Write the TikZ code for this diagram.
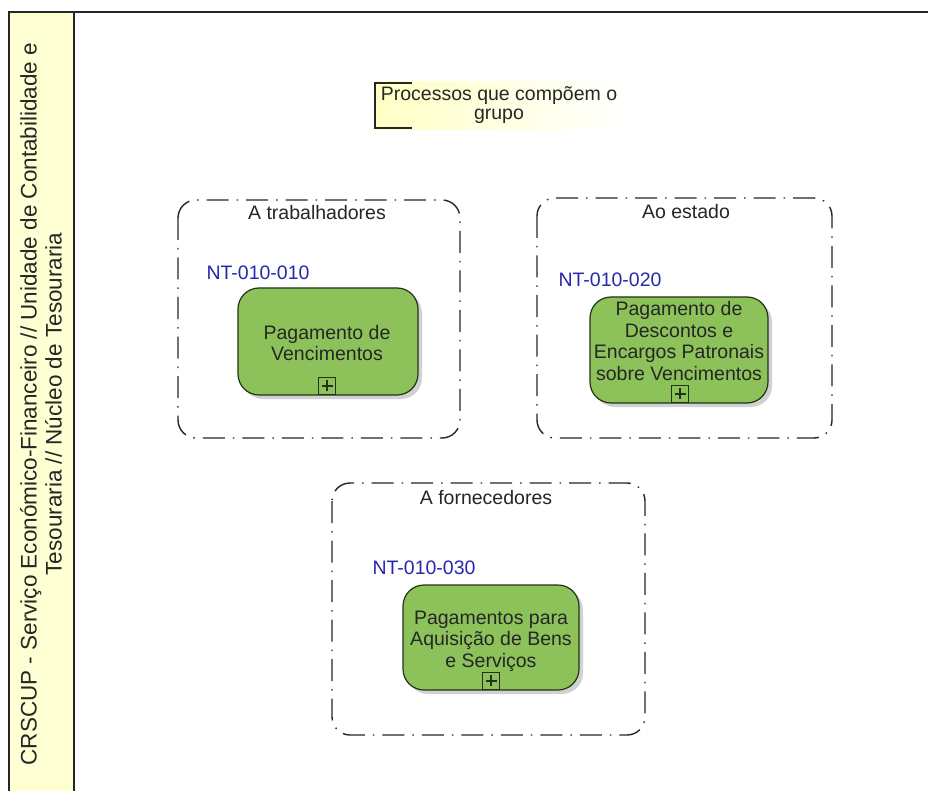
\documentclass[tikz,border=0pt]{standalone}
\usepackage{fontspec}
\setmainfont{Liberation Sans}
\usetikzlibrary{shadings}
\definecolor{lanefill}{RGB}{255,255,212}
\definecolor{taskgreen}{RGB}{141,194,90}
\definecolor{taskline}{RGB}{35,50,25}
\definecolor{idblue}{RGB}{40,40,170}
\definecolor{notefill}{RGB}{255,255,196}
\tikzset{
  lanebox/.style={draw=black!85, line width=1.2pt},
  groupbox/.style={draw=black!85, line width=1.4pt, rounded corners=18pt,
    dash pattern=on 22pt off 8pt on 1.5pt off 8pt},
  tasktext/.style={align=center, font=\fontsize{19.5}{21.5}\selectfont, text=black!85},
  taskbox/.style={draw=taskline, line width=1.2pt, fill=taskgreen, rounded corners=21pt},
  taskshadow/.style={fill=black!18, rounded corners=21pt},
  idlabel/.style={text=idblue, font=\fontsize{19.5}{22}\selectfont},
  grouplabel/.style={font=\fontsize{19.5}{22}\selectfont, text=black!85},
  plusbox/.style={draw=taskline, fill=taskgreen, line width=1.1pt, minimum size=17pt, inner sep=0pt},
}
\begin{document}
\begin{tikzpicture}[x=1pt,y=-1pt]
  \useasboundingbox (0,0) rectangle (928,791);
  \fill[white] (0,0) rectangle (928,791);

  % swimlane with its header strip
  \fill[lanefill] (9,12) rectangle (74,791);
  \draw[lanebox] (9,791) -- (9,12) -- (928,12);
  \draw[lanebox] (74,12) -- (74,791);
  \node[rotate=90, align=center, font=\fontsize{22.5}{25}\selectfont, text=black!85] (lane) at (41,404)
    {CRSCUP - Serviço Económico-Financeiro // Unidade de Contabilidade e\\Tesouraria // Núcleo de Tesouraria};

  % text annotation
  \shade[left color=notefill, right color=white] (375,82) rectangle (625,130);
  \draw[line width=1.2pt, black!85] (412,83) -- (375,83) -- (375,128) -- (412,128);
  \node[align=center, font=\fontsize{19.5}{18.5}\selectfont, text=black!85] (note) at (499,105)
    {Processos que compõem o\\grupo};

  % group: A trabalhadores
  \draw[groupbox] (178,200) rectangle (460,438);
  \node[grouplabel] (g1) at (317,213) {A trabalhadores};
  \node[idlabel] (id1) at (258,273) {NT-010-010};
  \fill[taskshadow] (242,292) rectangle (422,399);
  \draw[taskbox] (238,288) rectangle (418,395);
  \node[tasktext] (t1) at (327,343) {Pagamento de\\Vencimentos};
  \node[plusbox, anchor=south] (p1) at (327,395) {};
  \draw[line width=1.1pt, taskline] (p1.center) ++(-5.5,0) -- ++(11,0) (p1.center) ++(0,-5.5) -- ++(0,11);

  % group: Ao estado
  \draw[groupbox] (537,198) rectangle (832,438);
  \node[grouplabel] (g2) at (686,212) {Ao estado};
  \node[idlabel] (id2) at (610,280) {NT-010-020};
  \fill[taskshadow] (594,301) rectangle (772,407);
  \draw[taskbox] (590,297) rectangle (768,403);
  \node[tasktext, font=\fontsize{19.5}{21.7}\selectfont] (t2) at (679,341)
    {Pagamento de\\Descontos e\\Encargos Patronais\\sobre Vencimentos};
  \node[plusbox, anchor=south] (p2) at (680,403) {};
  \draw[line width=1.1pt, taskline] (p2.center) ++(-5.5,0) -- ++(11,0) (p2.center) ++(0,-5.5) -- ++(0,11);

  % group: A fornecedores
  \draw[groupbox] (332,483) rectangle (645,735);
  \node[grouplabel] (g3) at (486,498) {A fornecedores};
  \node[idlabel] (id3) at (424,568) {NT-010-030};
  \fill[taskshadow] (407,589) rectangle (583,694);
  \draw[taskbox] (403,585) rectangle (579,690);
  \node[tasktext] (t3) at (491,641)
    {Pagamentos para\\Aquisição de Bens\\e Serviços};
  \node[plusbox, anchor=south] (p3) at (491,690) {};
  \draw[line width=1.1pt, taskline] (p3.center) ++(-5.5,0) -- ++(11,0) (p3.center) ++(0,-5.5) -- ++(0,11);
\end{tikzpicture}
\end{document}
